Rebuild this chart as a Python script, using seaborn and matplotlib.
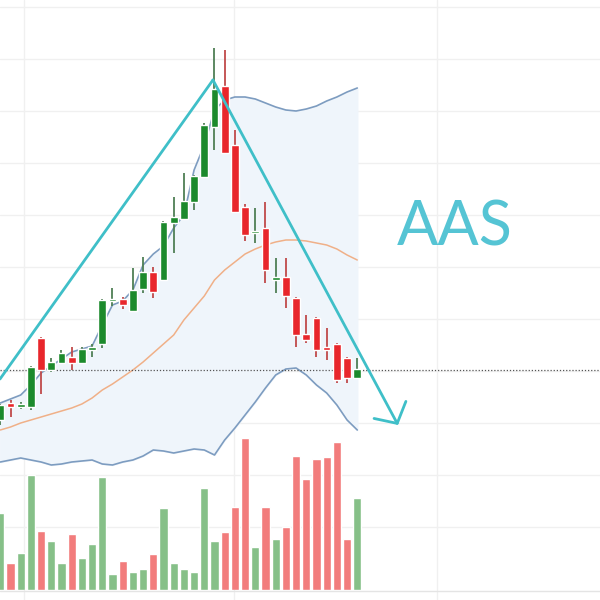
import numpy as np
import pandas as pd
import matplotlib
matplotlib.use("Agg")
import matplotlib.pyplot as plt
import seaborn as sns

# candle data, one value per session (price units)
opens  = [180, 197, 193, 193, 262, 230, 237, 243, 237, 250, 256, 299, 301, 289, 311, 328, 320, 377,
          381, 398, 423, 473, 514, 455, 393, 367, 372, 320, 323, 302, 266, 282, 253, 256, 242, 222]
highs  = [196, 200, 198, 234, 263, 242, 250, 253, 253, 256, 301, 312, 303, 332, 343, 333, 379, 403,
          427, 425, 477, 552, 550, 470, 396, 392, 398, 342, 342, 303, 285, 283, 272, 257, 243, 242]
lows   = [175, 183, 191, 190, 206, 228, 236, 230, 236, 243, 252, 294, 291, 288, 307, 302, 319, 347,
          380, 390, 422, 450, 447, 387, 359, 357, 317, 307, 292, 253, 257, 243, 240, 217, 217, 221]
closes = [195, 193, 196, 233, 230, 238, 247, 237, 251, 253, 300, 301, 295, 310, 328, 308, 378, 383,
          399, 424, 475, 511, 447, 388, 365, 369, 330, 323, 304, 265, 260, 250, 250, 220, 222, 231]
volumes = [77, 27, 37, 115, 59, 49, 27, 56, 32, 46, 113, 16, 29, 18, 21, 36, 82, 27,
           21, 18, 102, 49, 58, 83, 152, 43, 83, 51, 63, 134, 111, 131, 133, 148, 51, 92]

# bollinger bands
upper  = [197, 201, 205, 215, 227, 234, 241, 248, 251, 254, 275, 295, 299, 310, 335, 346, 354, 372,
          385, 430, 455, 490, 500, 503, 503, 501, 497, 493, 490, 489, 491, 494, 499, 503, 508, 512]
middle = [170, 173, 177, 180, 183, 186, 189, 192, 196, 202, 210, 216, 223, 230, 238, 247, 256, 265,
          280, 292, 304, 320, 330, 338, 346, 351, 355, 358, 360, 360, 359, 357, 355, 351, 345, 340]
lower  = [138, 140, 142, 140, 138, 135, 136, 138, 139, 140, 136, 135, 138, 140, 144, 150, 149, 147,
          149, 151, 150, 145, 160, 172, 185, 198, 212, 225, 231, 232, 225, 215, 207, 195, 180, 170]

last_price = 230
label = "AAS"

green, red = "#1c8a2c", "#e8262b"
wick_green, wick_red = "#4f7f55", "#c04a4a"
vol_green, vol_red = "#86c088", "#f27c7c"
cyan = "#3fbfc8"

df = pd.DataFrame({"open": opens, "high": highs, "low": lows, "close": closes,
                   "volume": volumes, "upper": upper, "middle": middle, "lower": lower})
df["i"] = np.arange(len(df))
df["dir"] = np.where(df["close"] >= df["open"], "up", "down")

sns.set_theme(style="white")

fig = plt.figure(figsize=(6, 6), dpi=100)
ax = fig.add_axes([0, 0, 1, 1])
ax.set_xlim(-0.03, 58.8)
ax.set_ylim(0, 600)

# light grid only
ax.set_xticks([2.3, 22.9, 42.8])
ax.set_yticks(np.arange(73, 600, 52))
ax.grid(True, color="#f0f0f0", linewidth=1)
ax.tick_params(length=0, labelbottom=False, labelleft=False)
for s in ax.spines.values():
    s.set_visible(False)

# band fill + lines
ax.fill_between(df["i"], df["lower"], df["upper"], color="#eff5fb", zorder=1)
sns.lineplot(data=df, x="i", y="upper", ax=ax, color="#7d9cc0", linewidth=1.2, zorder=2)
sns.lineplot(data=df, x="i", y="lower", ax=ax, color="#7d9cc0", linewidth=1.2, zorder=2)
sns.lineplot(data=df, x="i", y="middle", ax=ax, color="#f0b088", linewidth=1.1, zorder=2)

# last price dotted line
ax.axhline(last_price, color="#555555", linestyle=(0, (1, 1.5)), linewidth=0.9, zorder=2)
ax.axhline(9, color="#e4e4e4", linewidth=1, zorder=1)

# candles
up = df["dir"] == "up"
ax.vlines(df["i"], df["low"], df["high"], colors=np.where(up, wick_green, wick_red),
          linewidth=1.3, zorder=3)
body_lo = np.minimum(df["open"], df["close"])
body_h = np.maximum(np.abs(df["close"] - df["open"]), 2)
ax.bar(df["i"], body_h, bottom=body_lo, width=0.75, color=np.where(up, green, red), zorder=4)

# trend lines
peak = (20.85, 520)
ax.plot([-0.03, peak[0]], [221, peak[1]], color=cyan, linewidth=2, solid_capstyle="round", zorder=5)
ax.annotate("", xy=(39.0, 175), xytext=peak,
            arrowprops=dict(arrowstyle="->,head_length=0.55,head_width=0.65", color=cyan,
                            lw=2, shrinkA=0, shrinkB=0, mutation_scale=20), zorder=5)

ax.text(44.6, 372, label, color="#55c4d4", fontsize=44, family="Lato",
        ha="center", va="center")

# volume panel
axv = fig.add_axes([0, 10 / 600, 1, 290 / 600], facecolor="none")
sns.barplot(data=df, x="i", y="volume", hue="dir", palette={"up": vol_green, "down": vol_red},
            dodge=False, width=0.8, legend=False, ax=axv, saturation=1)
axv.set_xlim(-0.03, 58.8)
axv.set_ylim(0, 290)
axv.axis("off")

fig.savefig("out.png", dpi=100)
